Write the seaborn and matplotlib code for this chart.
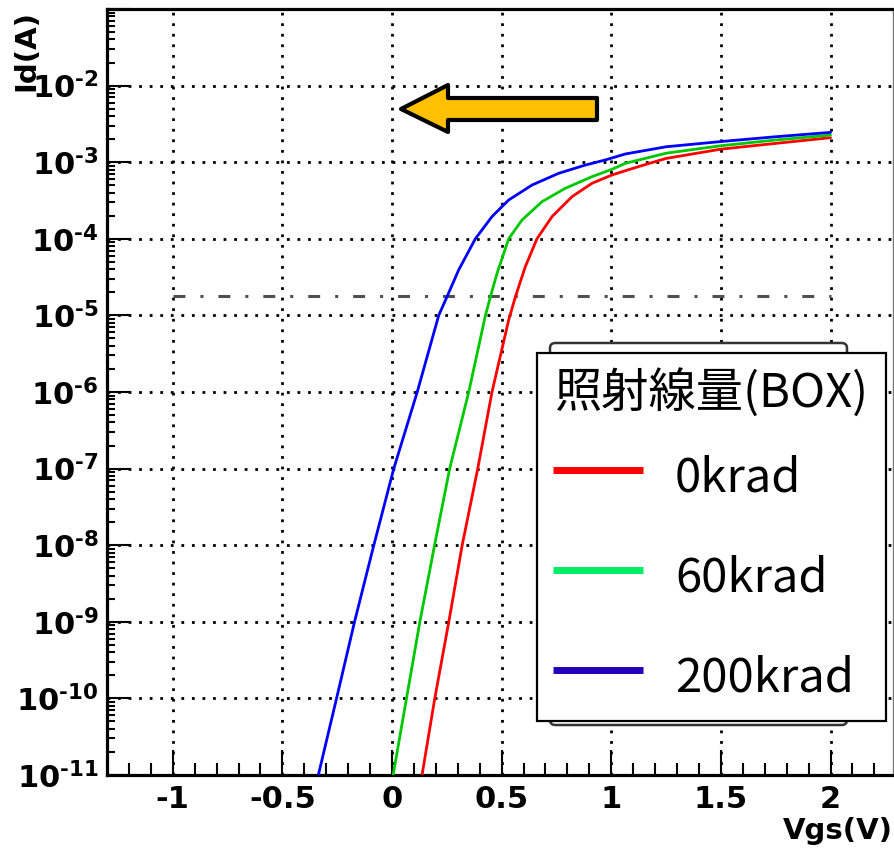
import numpy as np
import pandas as pd
import matplotlib
matplotlib.use("Agg")
import matplotlib.pyplot as plt
import seaborn as sns
from matplotlib.ticker import MultipleLocator, LogLocator, FuncFormatter, NullFormatter
from matplotlib.patches import Polygon, Rectangle, FancyBboxPatch
from matplotlib.lines import Line2D

# ---------------- data ----------------
vgs_0krad = [0.137, 0.195, 0.259, 0.320, 0.391, 0.456, 0.532, 0.563, 0.608, 0.661, 0.730,
             0.821, 0.912, 1.003, 1.064, 1.132, 1.25, 1.5, 1.75, 2.0]
id_0krad = [1e-11, 1e-10, 1e-9, 1e-8, 1e-7, 1e-6, 8.7e-6, 1.76e-5, 4.33e-5, 1e-4, 1.95e-4,
            3.55e-4, 5.30e-4, 6.81e-4, 7.74e-4, 8.9e-4, 1.12e-3, 1.48e-3, 1.76e-3, 2.09e-3]

vgs_60krad = [0.005, 0.066, 0.127, 0.194, 0.263, 0.350, 0.426, 0.449, 0.479, 0.532, 0.593,
              0.684, 0.790, 0.912, 1.003, 1.064, 1.25, 1.5, 1.75, 2.0]
id_60krad = [1e-11, 1e-10, 1e-9, 1e-8, 1e-7, 1e-6, 1e-5, 1.76e-5, 3.54e-5, 1e-4, 1.76e-4,
             3.05e-4, 4.56e-4, 6.47e-4, 8.07e-4, 9.66e-4, 1.31e-3, 1.64e-3, 1.95e-3, 2.26e-3]

vgs_200krad = [-0.336, -0.253, -0.171, -0.083, 0.008, 0.115, 0.213, 0.251, 0.304, 0.380, 0.456,
               0.532, 0.639, 0.760, 0.882, 0.973, 1.064, 1.25, 1.5, 1.75, 2.0]
id_200krad = [1e-11, 1e-10, 1e-9, 1e-8, 1e-7, 1e-6, 1e-5, 1.76e-5, 3.92e-5, 1e-4, 1.95e-4,
              3.21e-4, 5.04e-4, 7.16e-4, 9.18e-4, 1.07e-3, 1.28e-3, 1.59e-3, 1.86e-3, 2.15e-3, 2.45e-3]

dose_labels = ["0krad", "60krad", "200krad"]
line_colors = ["#FF0000", "#00C800", "#0000FF"]
legend_colors = ["#FF0000", "#00EE66", "#2200BB"]
legend_title = "照射線量(BOX)"
threshold_current = 1.78e-5
threshold_vgs_range = [-1.0, 2.0]
x_label = "Vgs(V)"
y_label = "Id(A)"

# ---------------- style ----------------
sns.set_theme(style="ticks")
plt.rcParams["font.family"] = ["DejaVu Sans"]
plt.rcParams["font.weight"] = "bold"
plt.rcParams["text.color"] = "black"
plt.rcParams["axes.labelcolor"] = "black"
plt.rcParams["xtick.color"] = "black"
plt.rcParams["ytick.color"] = "black"
plt.rcParams["axes.unicode_minus"] = False
plt.rcParams["mathtext.fontset"] = "custom"
plt.rcParams["mathtext.rm"] = "DejaVu Sans:bold"
plt.rcParams["mathtext.bf"] = "DejaVu Sans:bold"
plt.rcParams["mathtext.it"] = "DejaVu Sans:bold"
plt.rcParams["mathtext.default"] = "rm"

W, H = 895, 855
fig = plt.figure(figsize=(W / 100, H / 100), dpi=100)
fig.patch.set_facecolor("white")

def fx(px):
    return px / W

def fy(py):
    return 1 - py / H

ax_l, ax_r, ax_t, ax_b = 107, 893, 9, 775
ax = fig.add_axes([fx(ax_l), fy(ax_b), (ax_r - ax_l) / W, (ax_b - ax_t) / H])
ax.set_facecolor("white")

df = pd.concat([
    pd.DataFrame({"Vgs": vgs_0krad, "Id": id_0krad, "dose": dose_labels[0]}),
    pd.DataFrame({"Vgs": vgs_60krad, "Id": id_60krad, "dose": dose_labels[1]}),
    pd.DataFrame({"Vgs": vgs_200krad, "Id": id_200krad, "dose": dose_labels[2]}),
], ignore_index=True)

ax.set_yscale("log")
sns.lineplot(data=df, x="Vgs", y="Id", hue="dose", hue_order=dose_labels,
             palette=dict(zip(dose_labels, line_colors)), sort=False,
             estimator=None, legend=False, linewidth=2.0, ax=ax, zorder=4)

ax.hlines(threshold_current, threshold_vgs_range[0], threshold_vgs_range[1],
          colors="#505050", linewidth=2.2, linestyles=[(0, (3.9, 4.9, 1.0, 4.9))], zorder=3)

y_min, y_max = 1e-11, 1e-1
ax.set_xlim(-1.3, 2.285)
ax.set_ylim(y_min, y_max)

def y_fmt(v, p):
    if v < y_min * 0.5 or v > 2e-2:
        return ""
    return r"$10^{\text{%d}}$" % int(round(np.log10(v)))

ax.xaxis.set_major_locator(MultipleLocator(0.5))
ax.xaxis.set_minor_locator(MultipleLocator(0.1))
ax.xaxis.set_major_formatter(FuncFormatter(lambda v, p: "%g" % round(v, 2)))
ax.yaxis.set_major_locator(LogLocator(base=10, numticks=100))
ax.yaxis.set_minor_locator(LogLocator(base=10, subs=np.arange(2, 10), numticks=100))
ax.yaxis.set_minor_formatter(NullFormatter())
ax.yaxis.set_major_formatter(FuncFormatter(y_fmt))

ax.grid(True, which="major", color="black", linestyle=(0, (1.0, 2.8)), linewidth=2.0, zorder=1)

ax.tick_params(axis="both", which="both", direction="in", color="black", width=1.5,
               top=False, right=False, labelsize=22, labelcolor="black")
ax.tick_params(axis="x", which="major", length=18, pad=7)
ax.tick_params(axis="x", which="minor", length=8.6)
ax.tick_params(axis="y", which="major", length=17, pad=6)
ax.tick_params(axis="y", which="minor", length=6)

for side in ["left", "bottom", "top"]:
    ax.spines[side].set_linewidth(2.3)
    ax.spines[side].set_color("black")
ax.spines["right"].set_linewidth(1.0)
ax.spines["right"].set_color("#777777")

ax.set_xlabel(x_label, fontsize=21, fontweight="bold", ha="right", va="center", color="black")
ax.xaxis.set_label_coords(1.0, -(831 - ax_b) / (ax_b - ax_t))
ax.set_ylabel(y_label, fontsize=21, fontweight="bold", ha="right", va="center", color="black")
ax.yaxis.set_label_coords(-(ax_l - 26) / (ax_r - ax_l), 1.0 - 1 / (ax_b - ax_t))

# ---------------- arrow annotation ----------------
arrow_px = [(401, 109), (448, 85), (448, 98), (597, 98), (597, 120), (448, 120), (448, 132)]
arrow = Polygon([(fx(x), fy(y)) for x, y in arrow_px], closed=True, transform=fig.transFigure,
                facecolor="#FFC000", edgecolor="black", linewidth=3.0, joinstyle="round", zorder=10)
fig.add_artist(arrow)

# ---------------- legend ----------------
back = FancyBboxPatch((fx(550), fy(725)), (847 - 550) / W, (725 - 343) / H,
                      boxstyle="round,pad=0,rounding_size=0.006", transform=fig.transFigure,
                      facecolor="white", edgecolor="#333333", linewidth=1.8, zorder=11)
fig.add_artist(back)
front = Rectangle((fx(537), fy(721)), (886 - 537) / W, (721 - 353) / H, transform=fig.transFigure,
                  facecolor="white", edgecolor="black", linewidth=1.6, zorder=12)
fig.add_artist(front)
leg_fonts = ["Noto Sans CJK JP", "DejaVu Sans"]
fig.text(fx(712), fy(393), legend_title, ha="center", va="center", fontsize=34,
         fontweight="normal", family=leg_fonts, color="black", zorder=13)
for i, (lab, col) in enumerate(zip(dose_labels, legend_colors)):
    ly = 470 + 100 * i
    fig.add_artist(Line2D([fx(553), fx(643)], [fy(ly), fy(ly)], color=col, linewidth=5,
                          transform=fig.transFigure, zorder=13, solid_capstyle="butt"))
    fig.text(fx(675), fy(ly + 21), lab, ha="left", va="baseline", fontsize=34,
             fontweight="normal", family=leg_fonts, color="black", zorder=13)

fig.savefig("out.png", dpi=100, facecolor="white")
